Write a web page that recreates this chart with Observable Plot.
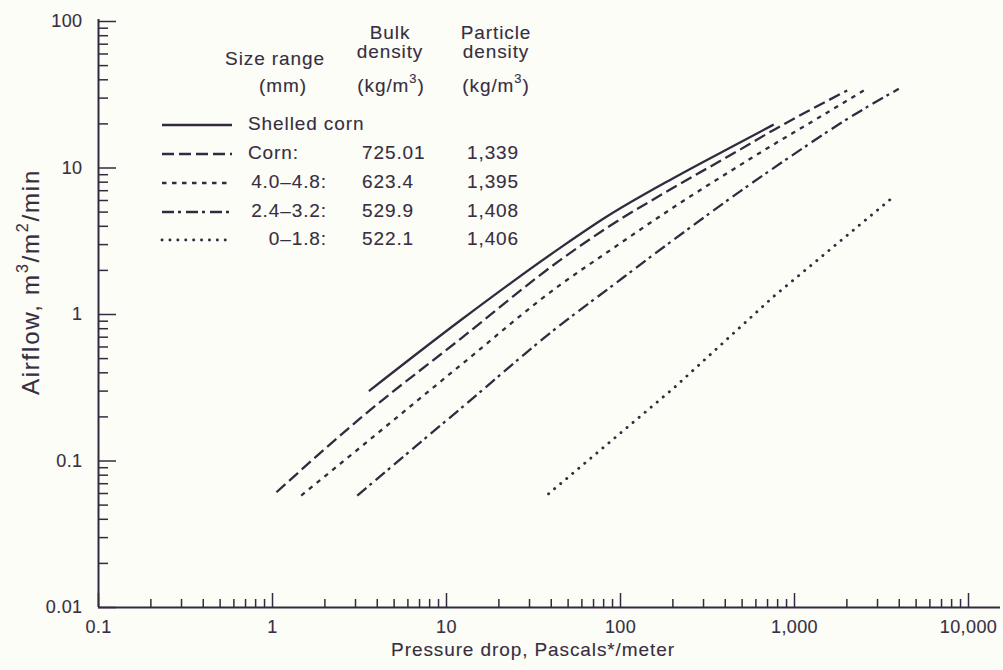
<!DOCTYPE html>
<html><head><meta charset="utf-8">
<script src="https://cdn.jsdelivr.net/npm/d3@7"></script>
<script src="https://cdn.jsdelivr.net/npm/@observablehq/plot@0.6"></script>
<style>
html,body{margin:0;padding:0;background:#fcfdf7;}
#wrap{position:relative;width:1003px;height:670px;}
#wrap svg{position:absolute;left:0;top:0;}
</style></head><body><div id="wrap"></div>
<script>
// ---- axis ticks / labels ----
const xTicks = [0.1, 1, 10, 100, 1000, 10000];
const xTickLabels = ["0.1", "1", "10", "100", "1,000", "10,000"];
const yTicks = [0.01, 0.1, 1, 10, 100];
const yTickLabels = ["0.01", "0.1", "1", "10", "100"];
const minorMultipliers = [2, 3, 4, 5, 6, 7, 8, 9];

// ---- legend table ----
const sizeRanges = ["Shelled corn", "Corn:", "4.0–4.8:", "2.4–3.2:", "0–1.8:"];
const bulkDensity = ["", "725.01", "623.4", "529.9", "522.1"];
const particleDensity = ["", "1,339", "1,395", "1,408", "1,406"];

// ---- curves (pressure drop Pa/m, airflow m3/m2/min) ----
const shelledX = [3.58, 12.0, 45.2, 83.9, 202, 489, 760];
const shelledY = [0.300, 0.91, 2.86, 4.68, 8.55, 15.0, 19.8];
const cornX = [1.054, 3.20, 12.0, 45.2, 83.9, 202, 489, 760, 1183, 2009];
const cornY = [0.0612, 0.196, 0.68, 2.36, 3.92, 7.35, 13.4, 18.2, 24.3, 33.8];
const r48X = [1.462, 3.20, 12.0, 45.2, 83.9, 202, 489, 760, 1183, 2500];
const r48Y = [0.0581, 0.124, 0.449, 1.60, 2.66, 5.40, 10.5, 14.5, 19.8, 33.8];
const r32X = [3.07, 12.0, 45.2, 83.9, 202, 489, 1183, 1837, 3975];
const r32Y = [0.0581, 0.227, 0.85, 1.48, 3.24, 6.95, 14.3, 20.2, 34.7];
const r18X = [38.6, 202.5, 760, 3724];
const r18Y = [0.0597, 0.315, 1.33, 6.39];

const ink = "#342a40";
const textInk = "#372e42";
const font = "'Liberation Sans', Arial, Helvetica, sans-serif";
const dashes = [null, "12,5", "4.5,5.5", "12,4,3,5", "0.1,7.8"];
const caps = ["butt", "butt", "butt", "butt", "round"];
const widths = [2.3, 2.3, 2.3, 2.3, 2.9];

const toRows = (xs, ys) => xs.map((x, i) => ({x, y: ys[i]}));
const curves = [
  toRows(shelledX, shelledY), toRows(cornX, cornY), toRows(r48X, r48Y),
  toRows(r32X, r32Y), toRows(r18X, r18Y)
];

const xMinor = xTicks.slice(0, -1).flatMap(d => minorMultipliers.map(m => d * m));
const yMinor = yTicks.slice(0, -1).flatMap(d => minorMultipliers.map(m => d * m));
const xLab = new Map(xTicks.map((d, i) => [d, xTickLabels[i]]));
const yLab = new Map(yTicks.map((d, i) => [d, yTickLabels[i]]));

const chart = Plot.plot({
  width: 1003, height: 670,
  marginLeft: 98, marginRight: 3, marginTop: 19, marginBottom: 63,
  style: {background: "transparent", color: textInk, fontFamily: font, fontSize: "18px", overflow: "visible", letterSpacing: "0.4px"},
  x: {type: "log", domain: [0.1, 10000], range: [98, 968]},
  y: {type: "log", domain: [0.01, 100], range: [607, 21]},
  marks: [
    Plot.ruleY([0.01], {stroke: ink, strokeWidth: 2}),
    Plot.ruleX([0.1], {stroke: ink, strokeWidth: 2}),
    Plot.axisX(xMinor, {tickSize: -8, tickFormat: () => "", label: null, stroke: ink, strokeWidth: 1.5}),
    Plot.axisX(xTicks, {tickSize: -14, tickPadding: 27, tickFormat: d => xLab.get(d), label: null, stroke: ink, strokeWidth: 1.5, fill: textInk, textStroke: textInk, textStrokeWidth: 0.12}),
    Plot.axisY(yMinor, {tickSize: -10, tickFormat: () => "", label: null, stroke: ink, strokeWidth: 1.5}),
    Plot.axisY(yTicks, {tickSize: -18, tickPadding: 34, tickFormat: d => yLab.get(d), label: null, stroke: ink, strokeWidth: 1.5, fill: textInk, textStroke: textInk, textStrokeWidth: 0.12}),
    ...curves.map((rows, i) => Plot.line(rows, {
      x: "x", y: "y", curve: i === 4 ? "linear" : "monotone-x", stroke: ink, strokeWidth: widths[i],
      strokeDasharray: dashes[i] || undefined, strokeLinecap: caps[i]
    }))
  ]
});
document.getElementById("wrap").appendChild(chart);

// ---- overlay: legend table + axis titles ----
const ov = d3.select("#wrap").append("svg")
  .attr("width", 1003).attr("height", 670)
  .style("font-family", font).style("fill", textInk)
  .style("stroke", textInk).style("stroke-width", "0.12px")
  .style("font-size", "19px").style("letter-spacing", "0.9px");

function label(x, y, anchor, parts) {
  const t = ov.append("text").attr("x", x).attr("y", y)
    .attr("text-anchor", anchor).attr("dominant-baseline", "middle");
  parts.forEach(p => {
    if (p.sup) t.append("tspan").attr("dy", -7).attr("font-size", "13px").text(p.sup);
    else t.append("tspan").attr("dy", p.after ? 7 : 0).text(p.t);
  });
  return t;
}
// headers
label(275, 60, "middle", [{t: "Size range"}]);
label(283, 87, "middle", [{t: "(mm)"}]);
label(390, 34, "middle", [{t: "Bulk"}]);
label(390, 53, "middle", [{t: "density"}]);
label(391, 87, "middle", [{t: "(kg/m"}, {sup: "3"}, {t: ")", after: true}]);
label(496, 34, "middle", [{t: "Particle"}]);
label(496, 53, "middle", [{t: "density"}]);
label(496, 87, "middle", [{t: "(kg/m"}, {sup: "3"}, {t: ")", after: true}]);

const rowY = [125, 154, 183, 212, 240];
sizeRanges.forEach((s, i) => {
  ov.append("line").attr("x1", 162).attr("x2", 232).attr("y1", rowY[i]).attr("y2", rowY[i])
    .attr("stroke", ink).style("stroke-width", widths[i] + "px")
    .attr("stroke-linecap", caps[i])
    .attr("stroke-dasharray", dashes[i]);
  if (i <= 1) label(248, rowY[i], "start", [{t: s}]);
  else label(327, rowY[i], "end", [{t: s}]);
  if (bulkDensity[i]) label(362, rowY[i], "start", [{t: bulkDensity[i]}]);
  if (particleDensity[i]) label(467, rowY[i], "start", [{t: particleDensity[i]}]);
});

// x title
label(533, 651, "middle", [{t: "Pressure drop, Pascals*/meter"}]);
// y title
const yt = ov.append("text").attr("transform", "translate(33,282) rotate(-90)")
  .attr("text-anchor", "middle").attr("dominant-baseline", "middle")
  .style("font-size", "24px").style("letter-spacing", "1.8px").style("stroke-width", "0.1px");
yt.append("tspan").text("Airflow, m");
yt.append("tspan").attr("dy", -9).attr("font-size", "16px").text("3");
yt.append("tspan").attr("dy", 9).text("/m");
yt.append("tspan").attr("dy", -9).attr("font-size", "16px").text("2");
yt.append("tspan").attr("dy", 9).text("/min");
</script></body></html>
